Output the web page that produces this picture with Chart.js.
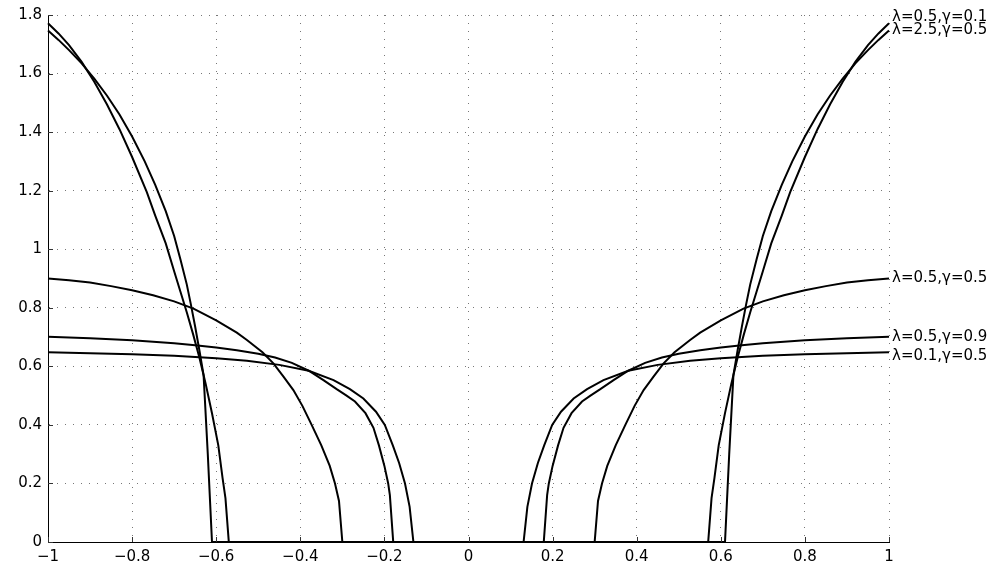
<!DOCTYPE html>
<html>
<head>
<meta charset="utf-8">
<script src="https://cdn.jsdelivr.net/npm/chart.js@4.4.1/dist/chart.umd.min.js"></script>
<style>
  html, body { margin: 0; padding: 0; background: #fff; }
  canvas { display: block; }
</style>
</head>
<body>
<canvas id="myChart" width="996" height="567"></canvas>
<script>
// curve labels, in the same order as the series below
var curveLabels = ['\u03bb=2.5,\u03b3=0.5', '\u03bb=0.5,\u03b3=0.1', '\u03bb=0.5,\u03b3=0.5', '\u03bb=0.5,\u03b3=0.9', '\u03bb=0.1,\u03b3=0.5'];

// steep curve that jumps up at |x| = 0.61
var xSteep = [-1.0,-0.975,-0.95,-0.92,-0.89,-0.86,-0.83,-0.80,-0.77,-0.745,-0.72,-0.70,-0.685,-0.67,-0.66,-0.65,-0.64,-0.63,-0.62,-0.61,
              0.61,0.62,0.63,0.64,0.65,0.66,0.67,0.685,0.70,0.72,0.745,0.77,0.80,0.83,0.86,0.89,0.92,0.95,0.975,1.0];
var ySteep = [1.747,1.715,1.68,1.635,1.583,1.525,1.46,1.385,1.30,1.22,1.13,1.045,0.965,0.88,0.81,0.735,0.655,0.57,0.30,0,
              0,0.30,0.57,0.655,0.735,0.81,0.88,0.965,1.045,1.13,1.22,1.30,1.385,1.46,1.525,1.583,1.635,1.68,1.715,1.747];

// steep curve that leaves zero at |x| = 0.57
var xGentle = [-1.0,-0.975,-0.95,-0.92,-0.89,-0.86,-0.83,-0.80,-0.765,-0.745,-0.72,-0.70,-0.685,-0.67,-0.655,-0.64,-0.625,-0.61,-0.595,-0.585,-0.578,-0.57,
               0.57,0.578,0.585,0.595,0.61,0.625,0.64,0.655,0.67,0.685,0.70,0.72,0.745,0.765,0.80,0.83,0.86,0.89,0.92,0.95,0.975,1.0];
var yGentle = [1.772,1.737,1.697,1.64,1.572,1.495,1.41,1.315,1.195,1.115,1.02,0.925,0.855,0.785,0.71,0.63,0.54,0.44,0.33,0.22,0.15,0,
               0,0.15,0.22,0.33,0.44,0.54,0.63,0.71,0.785,0.855,0.925,1.02,1.115,1.195,1.315,1.41,1.495,1.572,1.64,1.697,1.737,1.772];

// lambda=0.5, gamma=0.5
var xC = [-1.0,-0.95,-0.90,-0.85,-0.80,-0.75,-0.70,-0.654,-0.60,-0.551,-0.527,-0.49,-0.464,-0.44,-0.4165,-0.395,-0.373,-0.35,-0.33,-0.3175,-0.308,-0.30,
          0.30,0.308,0.3175,0.33,0.35,0.373,0.395,0.4165,0.44,0.464,0.49,0.527,0.551,0.60,0.654,0.70,0.75,0.80,0.85,0.90,0.95,1.0];
var yC = [0.90,0.894,0.886,0.874,0.86,0.843,0.822,0.797,0.757,0.715,0.69,0.648,0.61,0.565,0.519,0.465,0.40,0.33,0.26,0.20,0.14,0,
          0,0.14,0.20,0.26,0.33,0.40,0.465,0.519,0.565,0.61,0.648,0.69,0.715,0.757,0.797,0.822,0.843,0.86,0.874,0.886,0.894,0.90];

// lambda=0.5, gamma=0.9
var xD = [-1.0,-0.90,-0.80,-0.70,-0.65,-0.60,-0.551,-0.50,-0.46,-0.42,-0.38,-0.345,-0.3135,-0.29,-0.27,-0.245,-0.226,-0.213,-0.20,-0.191,-0.187,-0.179,
          0.179,0.187,0.191,0.20,0.213,0.226,0.245,0.27,0.29,0.3135,0.345,0.38,0.42,0.46,0.50,0.551,0.60,0.65,0.70,0.80,0.90,1.0];
var yD = [0.701,0.696,0.689,0.679,0.672,0.664,0.655,0.643,0.630,0.612,0.585,0.553,0.522,0.50,0.48,0.44,0.39,0.33,0.26,0.20,0.16,0,
          0,0.16,0.20,0.26,0.33,0.39,0.44,0.48,0.50,0.522,0.553,0.585,0.612,0.630,0.643,0.655,0.664,0.672,0.679,0.689,0.696,0.701];

// lambda=0.1, gamma=0.5
var xE = [-1.0,-0.90,-0.80,-0.70,-0.60,-0.527,-0.45,-0.38,-0.321,-0.282,-0.25,-0.22,-0.199,-0.18,-0.165,-0.151,-0.14,-0.131,
          0.131,0.14,0.151,0.165,0.18,0.199,0.22,0.25,0.282,0.321,0.38,0.45,0.527,0.60,0.70,0.80,0.90,1.0];
var yE = [0.648,0.645,0.641,0.636,0.628,0.619,0.605,0.585,0.553,0.522,0.49,0.445,0.40,0.33,0.27,0.20,0.12,0,
          0,0.12,0.20,0.27,0.33,0.40,0.445,0.49,0.522,0.553,0.585,0.605,0.619,0.628,0.636,0.641,0.645,0.648];

var seriesX = [xSteep, xGentle, xC, xD, xE];
var seriesY = [ySteep, yGentle, yC, yD, yE];

var FONT = 'DejaVu Sans';

function toPoints(xs, ys) {
  return xs.map(function (x, i) { return {x: x, y: ys[i]}; });
}

function fmt(v) {
  var r = Math.round(v * 10) / 10;
  return (r < 0 ? '\u2212' : '') + Math.abs(r);
}

// small inward tick marks like the original axes
var innerTicks = {
  id: 'innerTicks',
  afterDraw: function (chart) {
    var ctx = chart.ctx, xs = chart.scales.x, ys = chart.scales.y, a = chart.chartArea;
    ctx.save();
    ctx.strokeStyle = '#333';
    ctx.lineWidth = 1;
    ctx.beginPath();
    xs.ticks.forEach(function (t) {
      var p = Math.round(xs.getPixelForValue(t.value)) + 0.5;
      ctx.moveTo(p, a.bottom);
      ctx.lineTo(p, a.bottom - 5);
    });
    ys.ticks.forEach(function (t) {
      var p = Math.round(ys.getPixelForValue(t.value)) + 0.5;
      ctx.moveTo(a.left, p);
      ctx.lineTo(a.left + 5, p);
    });
    ctx.stroke();
    ctx.restore();
  }
};

// text at the right end of every curve
var labelOffsets = [0, -6, 0, 0, 4];
var endLabels = {
  id: 'endLabels',
  afterDraw: function (chart) {
    var ctx = chart.ctx, xs = chart.scales.x, ys = chart.scales.y;
    ctx.save();
    ctx.font = '15px "' + FONT + '"';
    ctx.fillStyle = '#000';
    ctx.textAlign = 'left';
    ctx.textBaseline = 'middle';
    chart.data.datasets.forEach(function (ds, i) {
      var last = ds.data[ds.data.length - 1];
      ctx.fillText(curveLabels[i], xs.getPixelForValue(last.x) + 3, ys.getPixelForValue(last.y) + labelOffsets[i]);
    });
    ctx.restore();
  }
};

var ctx = document.getElementById('myChart').getContext('2d');

var myChart = new Chart(ctx, {
  type: 'scatter',
  data: {
    datasets: seriesX.map(function (xs, i) {
      return {
        label: curveLabels[i],
        data: toPoints(xs, seriesY[i]),
        showLine: true,
        borderColor: '#000',
        backgroundColor: '#000',
        borderWidth: 2,
        pointRadius: 0,
        tension: 0,
        clip: false
      };
    })
  },
  options: {
    responsive: false,
    animation: false,
    layout: { padding: { top: 15, right: 107, left: 0, bottom: 0 } },
    plugins: {
      legend: { display: false },
      tooltip: { enabled: false }
    },
    scales: {
      x: {
        type: 'linear',
        min: -1,
        max: 1,
        ticks: { stepSize: 0.2, autoSkip: false, maxRotation: 0, padding: 6, color: '#000',
                 font: { family: FONT, size: 15 }, callback: fmt },
        grid: { color: '#777', lineWidth: 1, drawTicks: false },
        border: { display: true, color: '#000', width: 1, dash: [1, 7] },
        afterFit: function (s) { s.height = 25; }
      },
      y: {
        type: 'linear',
        min: 0,
        max: 1.8,
        ticks: { stepSize: 0.2, autoSkip: false, padding: 6, color: '#000',
                 font: { family: FONT, size: 15 }, callback: fmt },
        grid: { color: '#777', lineWidth: 1, drawTicks: false },
        border: { display: true, color: '#000', width: 1, dash: [1, 7] },
        afterFit: function (s) { s.width = 48; }
      }
    }
  },
  plugins: [innerTicks, endLabels]
});
</script>
</body>
</html>
